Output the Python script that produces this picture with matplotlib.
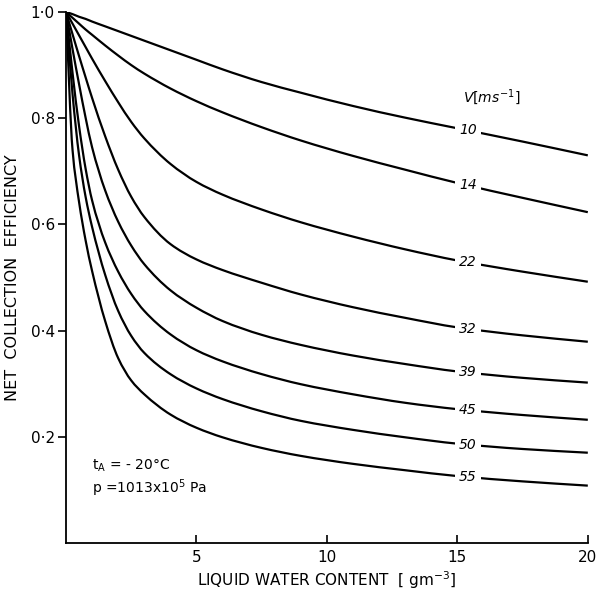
import numpy as np
import matplotlib.pyplot as plt
from matplotlib.path import Path
from matplotlib.patches import PathPatch

# liquid water content [g m^-3]
lwc = [0, 0.25, 0.5, 0.75, 1, 1.5, 2, 2.5, 3, 4, 5, 6, 7.5, 9, 11, 13, 15, 17.5, 20]

# net collection efficiency for each air speed V [m/s]
eff_10 = [1.0, 0.996, 0.991, 0.987, 0.982, 0.973, 0.964, 0.955, 0.946, 0.928, 0.910, 0.892, 0.868, 0.848, 0.823, 0.801, 0.781, 0.756, 0.730]
eff_14 = [1.0, 0.989, 0.978, 0.967, 0.957, 0.937, 0.918, 0.900, 0.884, 0.856, 0.832, 0.811, 0.783, 0.758, 0.729, 0.703, 0.678, 0.650, 0.623]
eff_22 = [1.0, 0.978, 0.956, 0.934, 0.912, 0.870, 0.830, 0.793, 0.762, 0.714, 0.680, 0.656, 0.628, 0.604, 0.577, 0.553, 0.532, 0.511, 0.492]
eff_32 = [1.0, 0.958, 0.917, 0.877, 0.838, 0.766, 0.703, 0.652, 0.614, 0.563, 0.534, 0.514, 0.490, 0.468, 0.444, 0.424, 0.406, 0.391, 0.379]
eff_39 = [1.0, 0.930, 0.864, 0.801, 0.745, 0.664, 0.605, 0.560, 0.525, 0.476, 0.443, 0.418, 0.392, 0.373, 0.353, 0.337, 0.323, 0.311, 0.302]
eff_45 = [1.0, 0.885, 0.785, 0.705, 0.645, 0.566, 0.511, 0.469, 0.437, 0.393, 0.363, 0.342, 0.318, 0.299, 0.280, 0.264, 0.252, 0.241, 0.232]
eff_50 = [1.0, 0.845, 0.730, 0.652, 0.595, 0.505, 0.437, 0.390, 0.358, 0.318, 0.291, 0.271, 0.248, 0.230, 0.213, 0.199, 0.187, 0.177, 0.170]
eff_55 = [1.0, 0.740, 0.642, 0.570, 0.512, 0.418, 0.348, 0.306, 0.280, 0.242, 0.217, 0.199, 0.179, 0.164, 0.149, 0.137, 0.126, 0.116, 0.108]

speeds = ['10', '14', '22', '32', '39', '45', '50', '55']
curves = [eff_10, eff_14, eff_22, eff_32, eff_39, eff_45, eff_50, eff_55]


def smooth_path(x, y):
    # monotone cubic (Fritsch-Carlson) tangents -> bezier segments through the read points
    x = np.asarray(x, float)
    y = np.asarray(y, float)
    h = np.diff(x)
    d = np.diff(y) / h
    m = np.zeros_like(y)
    m[0], m[-1] = d[0], d[-1]
    for i in range(1, len(x) - 1):
        if d[i - 1] * d[i] <= 0:
            m[i] = 0
        else:
            w1 = 2 * h[i] + h[i - 1]
            w2 = h[i] + 2 * h[i - 1]
            m[i] = (w1 + w2) / (w1 / d[i - 1] + w2 / d[i])
    verts = [(x[0], y[0])]
    codes = [Path.MOVETO]
    for i in range(len(x) - 1):
        verts += [(x[i] + h[i] / 3, y[i] + m[i] * h[i] / 3),
                  (x[i + 1] - h[i] / 3, y[i + 1] - m[i + 1] * h[i] / 3),
                  (x[i + 1], y[i + 1])]
        codes += [Path.CURVE4] * 3
    return Path(verts, codes)


plt.rcParams['font.family'] = 'DejaVu Sans'

fig = plt.figure(figsize=(5.97, 5.97), dpi=100)
ax = fig.add_axes([0.1106, 0.0905, 0.874, 0.8894])

for v, eff in zip(speeds, curves):
    ax.add_patch(PathPatch(smooth_path(lwc, eff), facecolor='none',
                           edgecolor='black', lw=1.6, zorder=2))
    # curve label sits on the line, breaking it
    xl = 15.4
    yl = np.interp(xl, lwc, eff)
    ax.text(xl, yl, v, ha='center', va='center', fontsize=10, style='italic',
            zorder=3, bbox=dict(facecolor='white', edgecolor='none', pad=3))

ax.text(16.3, 0.84, 'V$[ms^{-1}]$', ha='center', va='center', fontsize=10, style='italic')

ax.text(1.0, 0.145, '$\\mathregular{t_A}$ = - 20°C', fontsize=10, va='center')
ax.text(1.0, 0.104, 'p =1013x10$^5$ Pa', fontsize=10, va='center')

ax.set_xlim(0, 20)
ax.set_ylim(0, 1.0)
ax.spines['top'].set_visible(False)
ax.spines['right'].set_visible(False)
ax.spines['left'].set_linewidth(1.3)
ax.spines['bottom'].set_linewidth(1.3)

ax.set_xticks([5, 10, 15, 20])
ax.set_xticklabels(['5', '10', '15', '20'], fontsize=11)
ax.set_yticks([0.2, 0.4, 0.6, 0.8, 1.0])
ax.set_yticklabels(['0·2', '0·4', '0·6', '0·8', '1·0'], fontsize=11)
ax.tick_params(axis='x', direction='in', length=6, width=1.2, pad=5)
ax.tick_params(axis='y', direction='out', length=6, width=1.2, pad=2)

ax.set_xlabel('LIQUID WATER CONTENT  $[$ gm$^{-3}]$', fontsize=11, labelpad=3)
ax.set_ylabel('NET  COLLECTION  EFFICIENCY', fontsize=11.5, labelpad=8)

plt.savefig('out.png', dpi=100, facecolor='white')
